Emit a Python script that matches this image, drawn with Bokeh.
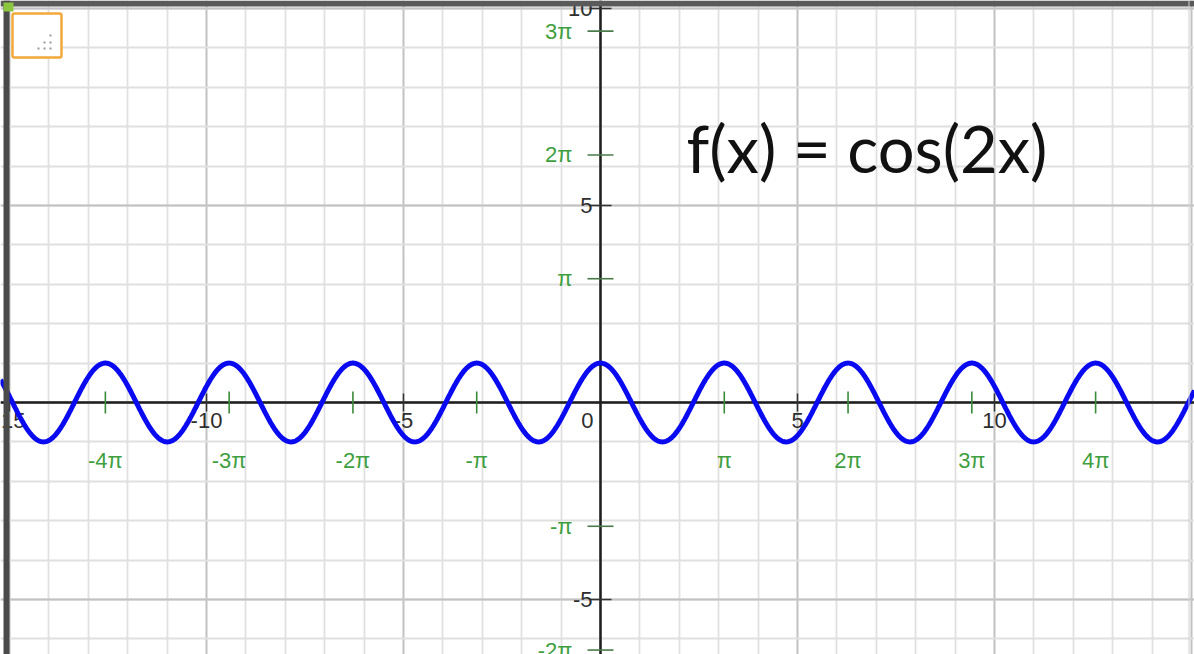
import numpy as np
from bokeh.plotting import figure
from bokeh.models import Grid, SingleIntervalTicker, Span, BoxAnnotation, ColumnDataSource
from bokeh.core.properties import value
from bokeh.embed import file_html
from bokeh.resources import INLINE

# Function being graphed
FUNC_TEXT = "f(x) = cos(2x)"
FREQ = 2.0
AMPLITUDE = 1.0

# Numeric axis ticks
X_NUM_TICKS = [-15, -10, -5, 5, 10]
X_NUM_LABELS = ["-15", "-10", "-5", "5", "10"]
Y_NUM_TICKS = [-5, 5, 10]
Y_NUM_LABELS = ["-5", "5", "10"]
ORIGIN_LABEL = ["0"]

# Multiples of pi marked on each axis
X_PI_MULTS = [-4, -3, -2, -1, 1, 2, 3, 4]
X_PI_LABELS = ["-4π", "-3π", "-2π", "-π", "π", "2π", "3π", "4π"]
Y_PI_MULTS = [-2, -1, 1, 2, 3]
Y_PI_LABELS = ["-2π", "-π", "π", "2π", "3π"]

# Visible window (same scale on both axes)
X_VIEW = (-15.228, 15.076)
Y_VIEW = (-6.396, 10.203)

W, H = 1194, 654
GREEN = "#3f9f3f"
NUM_FONT = value("Liberation Sans")

p = figure(width=W, height=H, x_range=X_VIEW, y_range=Y_VIEW,
           x_axis_type=None, y_axis_type=None, toolbar_location=None,
           output_backend="svg", min_border=0, outline_line_color=None,
           background_fill_color="white", border_fill_color="white")

# grid: minor every unit, major every 5 units
for dim in (0, 1):
    g = Grid(dimension=dim, ticker=SingleIntervalTicker(interval=5, num_minor_ticks=5),
             grid_line_color="#c2c2c2", grid_line_width=1.8,
             minor_grid_line_color="#e0e0e0", minor_grid_line_width=1.8)
    p.add_layout(g, "center")

# coordinate axes
p.add_layout(Span(location=0, dimension="width", line_color="#1e1e1e", line_width=2.5, level="underlay"))
p.add_layout(Span(location=0, dimension="height", line_color="#1e1e1e", line_width=2.5, level="underlay"))

# numeric ticks and labels
xn = ColumnDataSource(dict(x=X_NUM_TICKS, y=[0] * len(X_NUM_TICKS), t=X_NUM_LABELS))
yn = ColumnDataSource(dict(x=[0] * len(Y_NUM_TICKS), y=Y_NUM_TICKS, t=Y_NUM_LABELS))
p.scatter("x", "y", source=xn, marker="dash", angle=np.pi / 2, size=18,
          line_color="#333333", line_width=1.5)
p.scatter("x", "y", source=yn, marker="dash", size=22, line_color="#333333", line_width=1.5)
p.text("x", "y", text="t", source=xn, text_align="center", text_baseline="top",
       y_offset=11, text_font=NUM_FONT, text_font_size="22px", text_color="#2e2e2e")
p.text("x", "y", text="t", source=yn, text_align="right", text_baseline="middle",
       x_offset=-8, text_font=NUM_FONT, text_font_size="22px", text_color="#2e2e2e")
p.text(x=[0], y=[0], text=ORIGIN_LABEL, text_align="right", text_baseline="top",
       x_offset=-7, y_offset=11, text_font=NUM_FONT, text_font_size="22px", text_color="#2e2e2e")

# pi ticks and labels
xp = ColumnDataSource(dict(x=[m * np.pi for m in X_PI_MULTS], y=[0] * len(X_PI_MULTS), t=X_PI_LABELS))
yp = ColumnDataSource(dict(x=[0] * len(Y_PI_MULTS), y=[m * np.pi for m in Y_PI_MULTS], t=Y_PI_LABELS))
p.scatter("x", "y", source=xp, marker="dash", angle=np.pi / 2, size=22,
          line_color="#3a8a3a", line_width=1.6)
p.scatter("x", "y", source=yp, marker="dash", size=26, line_color="#4a7a4a", line_width=1.6)
p.text("x", "y", text="t", source=xp, text_align="center", text_baseline="middle",
       y_offset=58, text_font=NUM_FONT, text_font_size="22px", text_color=GREEN)
p.text("x", "y", text="t", source=yp, text_align="right", text_baseline="middle",
       x_offset=-28, text_font=NUM_FONT, text_font_size="22px", text_color=GREEN)

# the graph of f
xs = np.linspace(X_VIEW[0], X_VIEW[1], 1500)
ys = AMPLITUDE * np.cos(FREQ * xs)
p.line(xs, ys, line_color="#0a0af0", line_width=5)

# function label
p.text(x=[2.18], y=[6.47], text=[FUNC_TEXT], text_font=value("Lato"),
       text_font_size="65px", text_baseline="alphabetic", text_align="left",
       text_color="#111111")

# window frame
def canvas_box(left, right, top, bottom, **kw):
    return BoxAnnotation(left=left, right=right, top=top, bottom=bottom,
                         left_units="canvas", right_units="canvas",
                         top_units="canvas", bottom_units="canvas", **kw)

p.add_layout(canvas_box(0, W, 0, 6, fill_color="#5a5a5a", fill_alpha=1, line_color=None))
p.add_layout(canvas_box(3, 9, 0, H, fill_color="#4a4a4a", fill_alpha=1, line_color=None))
p.add_layout(canvas_box(W - 6, W - 5, 0, H, fill_color="#d0d0d0", fill_alpha=1, line_color=None))

# style-bar toggle in the corner
p.add_layout(canvas_box(3, 13, 2, 11, fill_color="#8cc63f", fill_alpha=1, line_color=None))
p.add_layout(canvas_box(12, 61, 13, 57, fill_color="white", fill_alpha=1,
                        line_color="#f2a83a", line_alpha=1, line_width=2.5, border_radius=2))
for dx, dy in [(50, 35), (44, 42), (50, 42), (38, 48), (44, 48), (50, 48)]:
    p.add_layout(canvas_box(dx - 1, dx + 1, dy - 1, dy + 1,
                            fill_color="#9a9a9a", fill_alpha=1, line_color=None))

open("out.html", "w").write(file_html(p, INLINE))
